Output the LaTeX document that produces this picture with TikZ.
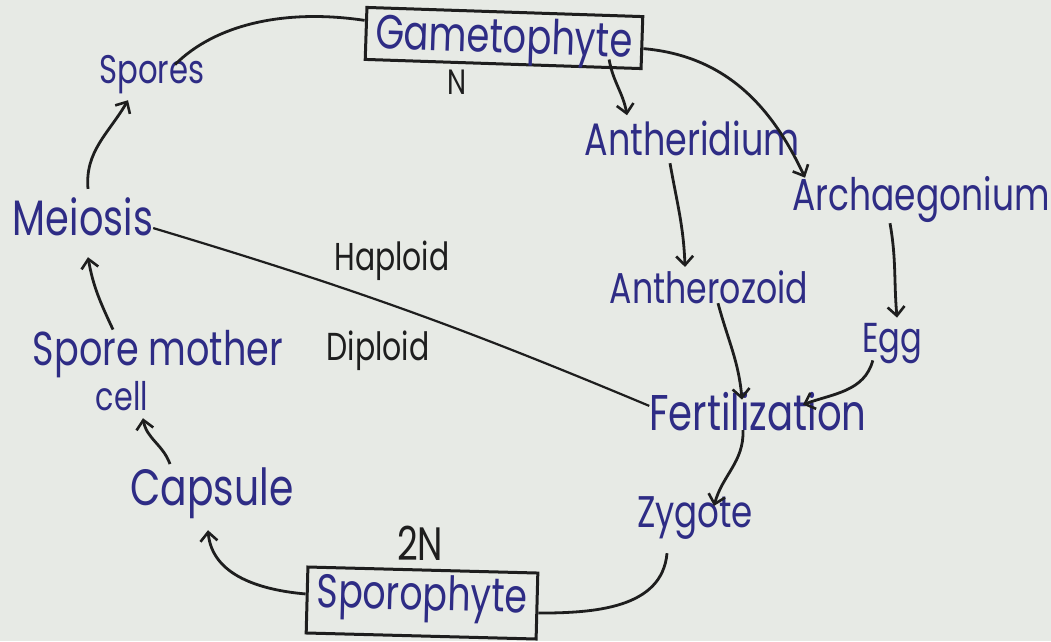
\documentclass[tikz,border=0pt]{standalone}
\usepackage{fontspec}
\setmainfont{Poppins}
\usetikzlibrary{arrows.meta}
\definecolor{ink}{HTML}{2E2C85}
\definecolor{pen}{HTML}{1E1E1E}
\definecolor{paper}{HTML}{E7EAE5}
\newcommand\lbl[2]{\scalebox{1}[1.3]{\resizebox{#1pt}{!}{#2}}}
\begin{document}
\begin{tikzpicture}[x=1pt,y=1pt,
  lab/.style={inner sep=0pt, text depth=0pt, anchor=base, text=ink},
  blk/.style={lab, text=pen},
  line/.style={draw=pen, line width=2.8pt},
  arr/.style={line, -{Straight Barb[length=9pt,width=17pt,line width=2.6pt]}},
  framebox/.style={draw=pen, line width=3pt, inner sep=0pt, text=ink}]
\fill[paper] (0,0) rectangle (1051,-641);
\useasboundingbox (0,0) rectangle (1051,-641);

% boxes
\node[framebox, rotate=-1.9, minimum width=276pt, minimum height=52pt,
      text height=36pt, text depth=6pt] (gam) at (504,-38) {\lbl{257}{Gametophyte}};
\node[framebox, rotate=-1.5, minimum width=230pt, minimum height=66pt,
      text height=38pt, text depth=24pt] (spor) at (422,-603) {\lbl{210}{Sporophyte}};

% labels
\node[blk] (n1)    at (457,-94)  {\lbl{19}{N}};
\node[blk] (n2)    at (420,-560) {\lbl{46}{2N}};
\node[lab] (spores) at (152,-83)  {\lbl{105}{Spores}};
\node[lab] (meio)  at (83,-235)  {\lbl{140}{Meiosis}};
\node[blk] (hap)   at (392,-270) {\lbl{115}{Haploid}};
\node[blk] (dip)   at (378,-360) {\lbl{103}{Diploid}};
\node[lab] (anth)  at (692,-155) {\lbl{215}{Antheridium}};
\node[lab] (arch)  at (921,-210) {\lbl{257}{Archaegonium}};
\node[lab] (antz)  at (709,-303) {\lbl{198}{Antherozoid}};
\node[lab] (egg)   at (892,-352) {\lbl{60}{Egg}};
\node[lab] (fert)  at (758,-430) {\lbl{217}{Fertilization}};
\node[lab] (zyg)   at (695,-527) {\lbl{116}{Zygote}};
\node[lab] (smc)   at (158,-365) {\lbl{250}{Spore mother}};
\node[lab] (cell)  at (122,-410) {\lbl{52}{cell}};
\node[lab] (caps)  at (212,-505) {\lbl{163}{Capsule}};

% connectors
\draw[line] ([yshift=13pt]gam.west) .. controls +(-80,12) and +(40,40) .. ([xshift=23pt,yshift=-10pt]spores.north);
\draw[arr] ([xshift=106pt,yshift=6pt]gam.south) to[out=-80,in=100] ([xshift=-65pt,yshift=5pt]anth.north);
\draw[arr] ([yshift=-6pt]gam.east) to[out=-5,in=115] ([xshift=-116pt,yshift=-2pt]arch.north);
\draw[arr] ([xshift=-22pt,yshift=-8pt]anth.south) to[out=-80,in=92] ([xshift=-24pt,yshift=3pt]antz.north);
\draw[arr] ([xshift=-31pt,yshift=-13pt]arch.south) to[out=-80,in=95] ([xshift=5pt,yshift=5pt]egg.north);
\draw[arr] ([xshift=9pt]antz.south) to[out=-75,in=95] ([xshift=-16pt,yshift=-8pt]fert.north);
\draw[arr] ([xshift=11pt,yshift=-23pt]egg.west) to[out=-105,in=20] ([xshift=45pt,yshift=-13pt]fert.north);
\draw[arr] ([xshift=-15pt]fert.south) to[out=-88,in=75] ([xshift=19pt,yshift=-10pt]zyg.north);
\draw[line] ([xshift=-28pt,yshift=-26pt]zyg.south) to[out=-95,in=0] ([yshift=-7pt]spor.east);
\draw[arr] ([yshift=6pt]spor.west) to[out=175,in=-85] ([xshift=-4pt,yshift=-25pt]caps.south);
\draw[arr] ([xshift=-42pt,yshift=3pt]caps.north) to[out=110,in=-80] ([xshift=21pt,yshift=-8pt]cell.south);
\draw[arr] ([xshift=-45pt]smc.north) to[out=115,in=-80] ([xshift=5pt,yshift=-22pt]meio.south);
\draw[arr] ([xshift=5pt,yshift=8pt]meio.north) to[out=95,in=-120] ([xshift=-24pt,yshift=-17pt]spores.south);
\draw[line, line width=2.2pt] ([yshift=-12pt]meio.east) to[bend left=3] ([yshift=5pt]fert.west);
\end{tikzpicture}
\end{document}
